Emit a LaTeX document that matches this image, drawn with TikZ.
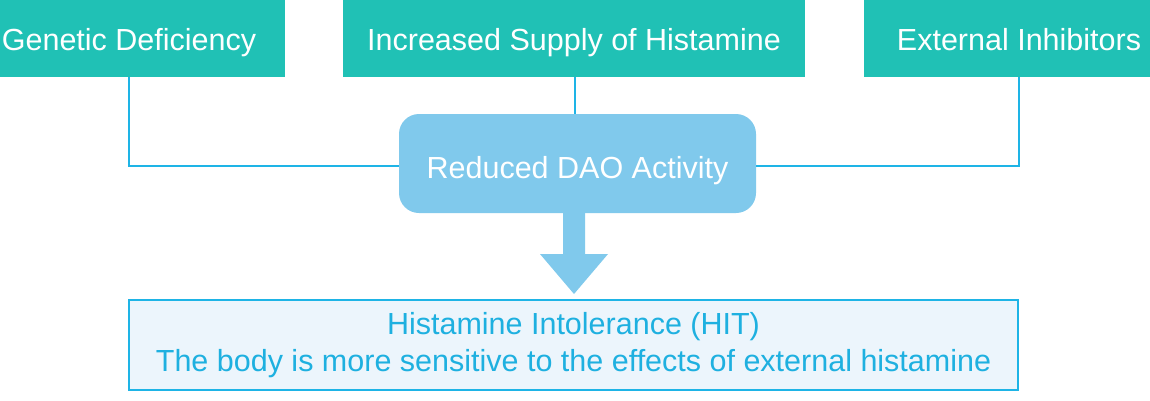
\documentclass[tikz,border=0pt]{standalone}
\usepackage{fontspec}
\setmainfont{Liberation Sans}
\definecolor{teal1}{HTML}{20C1B5}
\definecolor{dao}{HTML}{80C9EC}
\definecolor{lineblue}{HTML}{1EB4E6}
\definecolor{hitfill}{HTML}{ECF5FC}
\definecolor{hittext}{HTML}{1EB0E0}
\tikzset{
  cause/.style={rectangle, fill=teal1, text=white, inner sep=0pt, minimum height=77pt, text height=23pt, text depth=0pt, font=\fontsize{30.5}{35}\selectfont},
  daobox/.style={rectangle, rounded corners=20pt, fill=dao, text=white, inner sep=0pt, minimum width=357pt, minimum height=99pt, text height=29pt, text depth=0pt, font=\fontsize{30.5}{35}\selectfont},
  hitbox/.style={rectangle, draw=lineblue, line width=2pt, fill=hitfill, text=hittext, inner sep=0pt, minimum width=889pt, minimum height=90pt, align=center, font=\fontsize{30.5}{37}\selectfont},
  conn/.style={draw=lineblue, line width=2pt},
}
\begin{document}
\begin{tikzpicture}[x=1pt,y=-1pt]
\clip (0,0) rectangle (1150,400);
\fill[white] (0,0) rectangle (1150,400);
\node[cause, minimum width=312pt] (g1) at (129,38.5) {Genetic Deficiency};
\node[cause, minimum width=462pt] (g2) at (574,38.5) {Increased Supply of Histamine};
\node[cause, minimum width=310pt] (g3) at (1019,38.5) {External Inhibitors};
\node[daobox] (dao) at (577.5,163.5) {Reduced DAO Activity};
\node[hitbox] (hit) at (573.5,345) {Histamine Intolerance (HIT)\\The body is more sensitive to the effects of external histamine};
\draw[conn] (g1.south) |- ([yshift=-2.5pt]dao.west);
\draw[conn] (g3.south) |- ([yshift=-2.5pt]dao.east);
\draw[conn] ([xshift=1pt]g2.south) -- ([xshift=1pt]g2.south |- dao.north);
\coordinate (atop) at (574,212);
\coordinate (atip) at (574,294);
\fill[dao] ([xshift=-11pt]atop) -- ([xshift=11pt]atop) -- ([xshift=11pt]574,254) -- (608,254) -- (atip) -- (540,254) -- ([xshift=-11pt]574,254) -- cycle;
\end{tikzpicture}
\end{document}
